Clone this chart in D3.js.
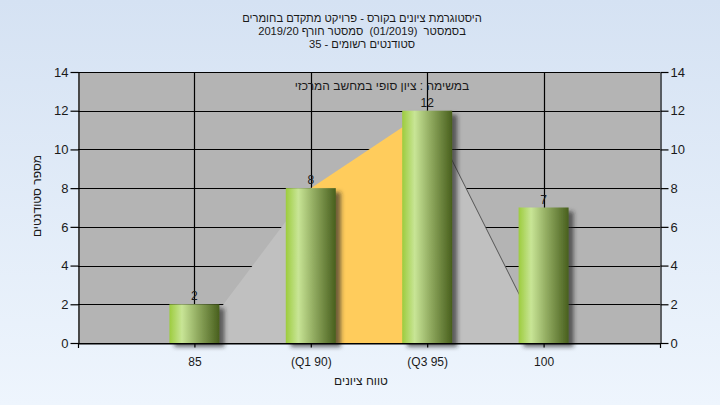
<!DOCTYPE html>
<html><head><meta charset="utf-8">
<script src="https://cdn.jsdelivr.net/npm/d3@7"></script>
<style>
html,body{margin:0;padding:0;}
svg{display:block;font-family:"Liberation Sans",Arial,sans-serif;}
text{white-space:pre;}
</style></head>
<body>
<svg id="c" width="720" height="405"></svg>
<script>
const categories = ["85", "(Q1 90)", "(Q3 95)", "100"];
const counts = [2, 8, 12, 7];
const areaValues = [0, 8, 12, 0];
const yTicks = [0, 2, 4, 6, 8, 10, 12, 14];
const titleLines = ["היסטוגרמת ציונים בקורס - פרויקט מתקדם בחומרים", "בסמסטר  (01/2019)  סמסטר חורף 2019/20", "סטודנטים רשומים - 35"];
const note = "במשימה : ציון סופי במחשב המרכזי";
const yLabel = "מספר סטודנטים";
const xLabel = "טווח ציונים";

const W = 720, H = 405;
const L = 78, R = 660, T = 72, B = 343;
const svg = d3.select("#c");
const defs = svg.append("defs");

const bg = defs.append("linearGradient").attr("id","bg").attr("x1",0).attr("y1",0).attr("x2",0).attr("y2",1);
bg.append("stop").attr("offset","0%").attr("stop-color","#d5e2f3");
bg.append("stop").attr("offset","100%").attr("stop-color","#eef5fd");
const bg2 = defs.append("linearGradient").attr("id","bar").attr("x1",0).attr("y1",0).attr("x2",1).attr("y2",0);
[["0%","#9dcc3e"],["25%","#c8e596"],["55%","#93ad62"],["100%","#485f1d"]].forEach(s=>bg2.append("stop").attr("offset",s[0]).attr("stop-color",s[1]));
const f = defs.append("filter").attr("id","sh").attr("x","-20%").attr("y","-20%").attr("width","150%").attr("height","150%");
f.append("feDropShadow").attr("dx",5).attr("dy",4).attr("stdDeviation",2.2).attr("flood-color","#222").attr("flood-opacity",0.65);

svg.append("rect").attr("width",W).attr("height",H).attr("fill","url(#bg)");

const x = d3.scaleLinear().domain([0, categories.length + 1]).range([L, R]);
const y = d3.scaleLinear().domain([0, 14]).range([B, T]);

svg.append("rect").attr("x",L).attr("y",T).attr("width",R-L).attr("height",B-T).attr("fill","#b4b4b4");

// grid
const g = svg.append("g").attr("stroke","#000").attr("stroke-width",1.2);
yTicks.forEach(v => g.append("line").attr("x1",L).attr("x2",R).attr("y1",Math.round(y(v))+0.5).attr("y2",Math.round(y(v))+0.5));
categories.forEach((c,i) => g.append("line").attr("x1",Math.round(x(i+1))+0.5).attr("x2",Math.round(x(i+1))+0.5).attr("y1",T).attr("y2",B));

// area segments
const pts = areaValues.map((v,i)=>[x(i+1), y(v)]);
const colors = ["#c0c0c0","#ffcc5c","#c0c0c0"];
for (let i=0;i<pts.length-1;i++){
  const poly = [[pts[i][0],y(0)], pts[i], pts[i+1], [pts[i+1][0],y(0)]];
  svg.append("path").attr("d", d3.line()(poly)+"Z").attr("fill",colors[i]);
}
svg.append("line").attr("x1",pts[2][0]).attr("y1",pts[2][1]).attr("x2",pts[3][0]).attr("y2",pts[3][1]).attr("stroke","#555").attr("stroke-width",1);

// bars
const bw = 50;
svg.append("g").selectAll("rect").data(counts).join("rect")
  .attr("x",(d,i)=>x(i+1)-bw/2).attr("y",d=>y(d)).attr("width",bw).attr("height",d=>y(0)-y(d))
  .attr("fill","url(#bar)").attr("filter","url(#sh)");

svg.append("g").selectAll("text").data(counts).join("text")
  .attr("x",(d,i)=>x(i+1)).attr("y",d=>y(d)-4).attr("text-anchor","middle")
  .attr("font-size",12).attr("fill","#1a1a1a").text(d=>d);

// axes
const axL = d3.axisLeft(y).tickValues(yTicks).tickSize(8).tickSizeOuter(0).tickPadding(2);
const axR = d3.axisRight(y).tickValues(yTicks).tickSize(8).tickSizeOuter(0).tickPadding(2);
const axB = d3.axisBottom(x).tickValues(categories.map((c,i)=>i+1)).tickFormat((d)=>categories[d-1]).tickSize(4).tickSizeOuter(0).tickPadding(10);
function style(sel){
  sel.selectAll("path").attr("stroke","#000").attr("stroke-width",1.2);
  sel.selectAll("line").attr("stroke","#000").attr("stroke-width",1.2);
  sel.selectAll("text").attr("font-size",13).attr("fill","#1a1a1a").attr("font-family","'Liberation Sans',Arial,sans-serif");
}
svg.append("g").attr("transform",`translate(${L+0.5},0)`).call(axL).call(style);
svg.append("g").attr("transform",`translate(${R+0.5},0)`).call(axR).call(style);
const gb = svg.append("g").attr("transform",`translate(0,${B+0.5})`).call(axB).call(style);
gb.selectAll("text").attr("font-size",12).attr("direction","ltr");
svg.append("line").attr("x1",L).attr("x2",R).attr("y1",B+0.5).attr("y2",B+0.5).attr("stroke","#000").attr("stroke-width",1.2);
svg.append("line").attr("x1",L).attr("x2",R).attr("y1",T+0.5).attr("y2",T+0.5).attr("stroke","#000").attr("stroke-width",1.2);
svg.append("line").attr("x1",L+0.5).attr("x2",L+0.5).attr("y1",B).attr("y2",B+5).attr("stroke","#000").attr("stroke-width",1.2);
svg.append("line").attr("x1",R+0.5).attr("x2",R+0.5).attr("y1",B).attr("y2",B+5).attr("stroke","#000").attr("stroke-width",1.2);

// titles
svg.append("g").selectAll("text").data(titleLines).join("text")
  .attr("x",362).attr("y",(d,i)=>22+i*13).attr("text-anchor","middle").attr("direction","rtl")
  .attr("font-size",11.2).attr("fill","#1a1a1a").text(d=>d);

svg.append("text").attr("x",382).attr("y",90).attr("text-anchor","middle").attr("direction","rtl")
  .attr("font-size",12).attr("fill","#1a1a1a").text(note);

svg.append("text").attr("transform","translate(41,196) rotate(-90)").attr("text-anchor","middle").attr("direction","rtl")
  .attr("font-size",12).attr("fill","#1a1a1a").text(yLabel);
svg.append("text").attr("x",361).attr("y",385).attr("text-anchor","middle").attr("direction","rtl")
  .attr("font-size",12).attr("fill","#1a1a1a").text(xLabel);
</script>
</body></html>
